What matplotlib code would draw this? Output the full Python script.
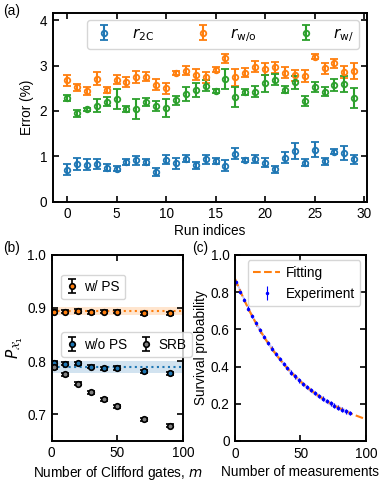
import numpy as np
import matplotlib
matplotlib.use('Agg')
import matplotlib.pyplot as plt

plt.rcParams['font.family'] = ['Liberation Sans', 'DejaVu Sans']
plt.rcParams['font.size'] = 9.8
plt.rcParams['mathtext.fontset'] = 'dejavusans'

# ---- panel (a): error rates per run ----
runs = np.arange(30)
r2c = [0.70, 0.83, 0.81, 0.83, 0.75, 0.73, 0.87, 0.91, 0.87, 0.66,
       0.92, 0.85, 0.95, 0.80, 0.93, 0.89, 0.79, 1.06, 0.92, 0.94,
       0.86, 0.71, 0.97, 1.12, 0.86, 1.15, 0.89, 1.10, 1.07, 0.93]
r2c_err = [0.12, 0.13, 0.12, 0.12, 0.07, 0.05, 0.07, 0.10, 0.07, 0.09,
           0.10, 0.12, 0.08, 0.07, 0.10, 0.07, 0.12, 0.12, 0.05, 0.08,
           0.10, 0.07, 0.12, 0.18, 0.07, 0.17, 0.08, 0.06, 0.16, 0.10]
rwo = [2.68, 2.52, 2.44, 2.71, 2.46, 2.69, 2.64, 2.75, 2.76, 2.58,
       2.50, 2.84, 2.89, 2.80, 2.74, 2.91, 3.16, 2.74, 2.84, 2.98,
       2.92, 2.96, 2.84, 2.79, 2.77, 3.20, 2.94, 3.05, 2.86, 2.89]
rwo_err = [0.12, 0.08, 0.08, 0.14, 0.06, 0.10, 0.10, 0.13, 0.10, 0.12,
           0.12, 0.04, 0.10, 0.12, 0.12, 0.06, 0.10, 0.18, 0.10, 0.13,
           0.13, 0.12, 0.12, 0.12, 0.13, 0.06, 0.13, 0.10, 0.13, 0.18]
rw = [2.29, 1.95, 2.04, 2.12, 2.20, 2.27, 2.04, 2.05, 2.20, 2.11,
      2.07, 2.24, 2.38, 2.46, 2.56, 2.44, 2.71, 2.30, 2.42, 2.43,
      2.61, 2.69, 2.47, 2.63, 2.22, 2.53, 2.43, 2.58, 2.60, 2.29]
rw_err = [0.07, 0.08, 0.03, 0.15, 0.10, 0.22, 0.07, 0.22, 0.08, 0.10,
          0.20, 0.10, 0.15, 0.15, 0.12, 0.05, 0.22, 0.22, 0.07, 0.12,
          0.18, 0.12, 0.08, 0.15, 0.10, 0.10, 0.10, 0.13, 0.18, 0.22]

# ---- panel (b): fidelity vs Clifford gates ----
m_gates = [2, 10, 20, 30, 40, 50, 70, 90]
p_wps = [0.893, 0.893, 0.894, 0.892, 0.893, 0.893, 0.890, 0.890]
p_wops = [0.796, 0.795, 0.796, 0.789, 0.786, 0.787, 0.781, 0.777]
p_srb = [0.788, 0.775, 0.757, 0.741, 0.728, 0.715, 0.690, 0.678]
p_err = 0.003
wps_mean, wps_band = 0.8935, 0.0075
wops_mean, wops_band = 0.789, 0.011

# ---- panel (c): survival probability ----
n_meas = [1, 4, 7, 10, 13, 16, 19, 22, 25, 28, 31, 34, 37, 40, 43,
          46, 49, 52, 55, 58, 61, 64, 67, 70, 73, 76, 79, 82, 85, 88]
surv = [0.853, 0.803, 0.757, 0.712, 0.671, 0.632, 0.595, 0.560, 0.528, 0.497,
        0.468, 0.441, 0.415, 0.391, 0.368, 0.347, 0.326, 0.307, 0.289, 0.273,
        0.257, 0.242, 0.228, 0.214, 0.202, 0.190, 0.179, 0.169, 0.159, 0.149]
surv_err = 0.012

blue, orange, green = '#1f77b4', '#ff7f0e', '#2ca02c'

fig = plt.figure(figsize=(3.9, 4.87), dpi=100)
ax_a = fig.add_axes([0.135, 0.586, 0.805, 0.388])
ax_b = fig.add_axes([0.1326, 0.095, 0.337, 0.382])
ax_c = fig.add_axes([0.603, 0.0945, 0.335, 0.382])

for ax in (ax_a, ax_b, ax_c):
    ax.tick_params(direction='in', top=True, right=True, length=4, width=1.2,
                   pad=4)
    for s in ax.spines.values():
        s.set_linewidth(1.4)

# (a)
for y, e, c, lab in [(r2c, r2c_err, blue, r'$r_{\rm 2C}$'),
                     (rwo, rwo_err, orange, r'$r_{\rm w/o}$'),
                     (rw, rw_err, green, r'$r_{\rm w/}$')]:
    ax_a.errorbar(runs, y, yerr=e, fmt='o', color=c, mfc='none', mec=c,
                  ms=4, mew=1.3, elinewidth=1.5, capsize=3.2, capthick=1.5,
                  label=lab)
ax_a.set_xlim(-1.45, 30.25)
ax_a.set_ylim(0, 4.17)
ax_a.set_yticks([0, 1, 2, 3, 4])
ax_a.set_xticks([0, 5, 10, 15, 20, 25, 30])
ax_a.set_xlabel('Run indices', labelpad=2)
ax_a.set_ylabel('Error (%)', labelpad=4)
ax_a.legend(loc='upper right', ncol=3, fontsize=11, columnspacing=2.4,
            handletextpad=1.0, borderaxespad=0.5, handlelength=1.6,
            borderpad=0.35)

# (b)
ax_b.axhspan(wps_mean - wps_band, wps_mean + wps_band, color=orange, alpha=0.2, lw=0)
ax_b.axhspan(wops_mean - wops_band, wops_mean + wops_band, color=blue, alpha=0.2, lw=0)
ax_b.axhline(wps_mean, color=orange, ls=':', lw=1.5)
ax_b.axhline(wops_mean, color=blue, ls=':', lw=1.5)
kw = dict(fmt='o', ecolor='k', mec='k', ms=4, mew=1.2, elinewidth=1.2,
          capsize=3, capthick=1.2)
h_wps = ax_b.errorbar(m_gates, p_wps, yerr=p_err, mfc=orange, label='w/ PS', **kw)
h_wops = ax_b.errorbar(m_gates, p_wops, yerr=p_err, mfc=blue, label='w/o PS', **kw)
h_srb = ax_b.errorbar(m_gates, p_srb, yerr=p_err, mfc='gray', label='SRB', **kw)
ax_b.set_xlim(0, 100)
ax_b.set_ylim(0.65, 1.0)
ax_b.set_yticks([0.7, 0.8, 0.9, 1.0])
ax_b.set_xticks([0, 50, 100])
ax_b.set_xlabel('Number of Clifford gates, $m$', labelpad=3)
ax_b.set_ylabel(r'$P_{\mathcal{X}_1}$', labelpad=2, fontsize=11)
leg1 = ax_b.legend(handles=[h_wps], loc='upper left', bbox_to_anchor=(0.02, 0.93),
                   fontsize=9.8, handlelength=0.8, handletextpad=0.5)
ax_b.add_artist(leg1)
ax_b.legend(handles=[h_wops, h_srb], loc='upper left', bbox_to_anchor=(0.02, 0.62),
            ncol=2, fontsize=9.8, handlelength=0.8, handletextpad=0.5,
            columnspacing=1.0)

# (c)
surv_arr = np.array(surv)
ax_c.fill_between(n_meas, surv_arr - surv_err, surv_arr + surv_err,
                  color='#9999ff', alpha=0.55, lw=0)
ax_c.errorbar(n_meas, surv, yerr=surv_err, fmt='.', color='blue', ms=3,
              elinewidth=0.8, label='Experiment')
slope, icpt = np.polyfit(n_meas, np.log(surv), 1)
m_fit = np.linspace(0, 100, 200)
ax_c.plot(m_fit, np.exp(icpt + slope * m_fit), '--', color=orange, lw=1.5,
          label='Fitting')
ax_c.set_xlim(0, 100)
ax_c.set_ylim(0, 1.0)
ax_c.set_xticks([0, 50, 100])
ax_c.set_yticks([0, 0.2, 0.4, 0.6, 0.8, 1.0])
ax_c.set_yticklabels(['0', '0.2', '0.4', '0.6', '0.8', '1.0'])
ax_c.set_xlabel('Number of measurements', labelpad=3)
ax_c.set_ylabel('Survival probability', labelpad=2)
ax_c.legend(loc='upper right', fontsize=9.8, handlelength=2.0,
            handletextpad=0.4, borderaxespad=0.4)

fig.text(0.008, 0.977, '(a)', fontsize=9.8, va='center')
fig.text(0.008, 0.49, '(b)', fontsize=9.8, va='center')
fig.text(0.492, 0.49, '(c)', fontsize=9.8, va='center')

fig.savefig('out.png', dpi=100)
